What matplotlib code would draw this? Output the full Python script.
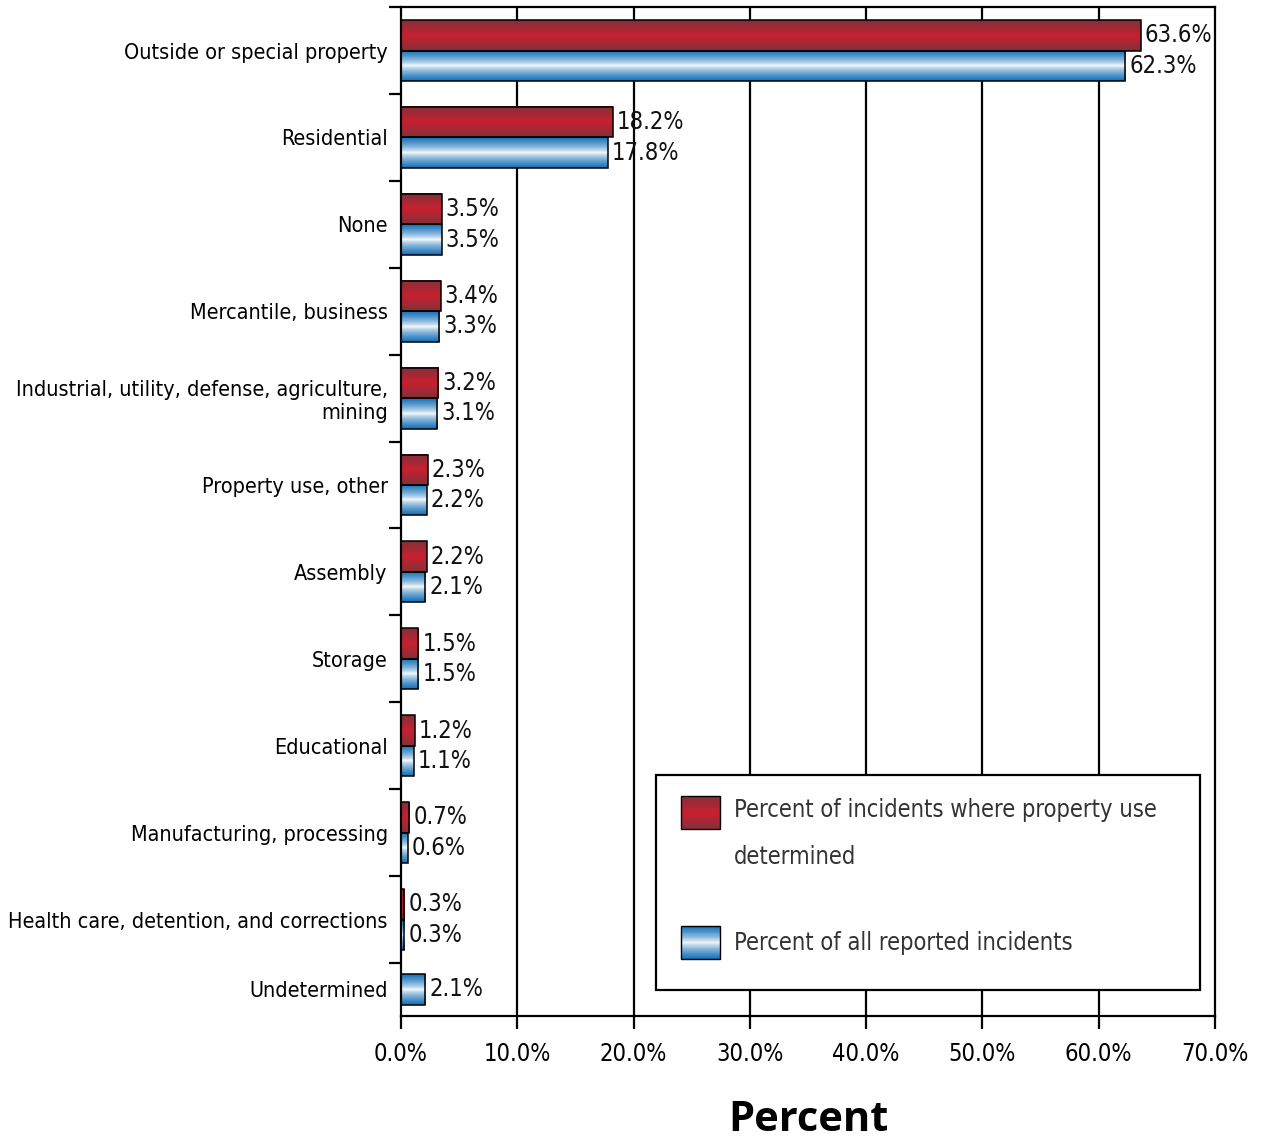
import numpy as np
import matplotlib.pyplot as plt
from matplotlib.patches import Rectangle
from matplotlib.legend_handler import HandlerBase
from matplotlib.colors import to_rgb

# property use categories, top to bottom
categories = [
    "Outside or special property",
    "Residential",
    "None",
    "Mercantile, business",
    "Industrial, utility, defense, agriculture,\nmining",
    "Property use, other",
    "Assembly",
    "Storage",
    "Educational",
    "Manufacturing, processing",
    "Health care, detention, and corrections",
    "Undetermined",
]
# percent of incidents where property use determined (none for "Undetermined")
pct_determined = [63.6, 18.2, 3.5, 3.4, 3.2, 2.3, 2.2, 1.5, 1.2, 0.7, 0.3, None]
# percent of all reported incidents
pct_all = [62.3, 17.8, 3.5, 3.3, 3.1, 2.2, 2.1, 1.5, 1.1, 0.6, 0.3, 2.1]
xticks = [0, 10, 20, 30, 40, 50, 60, 70]
legend_labels = ["Percent of incidents where property use\ndetermined",
                 "Percent of all reported incidents"]

plt.rcParams["font.family"] = ["DejaVu Sans"]
plt.rcParams["font.stretch"] = "condensed"


def gradient_colors(edge, center, n=40, power=1.0):
    t = np.abs(np.linspace(-1, 1, n)) ** power
    edge = np.array(to_rgb(edge))
    center = np.array(to_rgb(center))
    return center[None, :] * (1 - t[:, None]) + edge[None, :] * t[:, None]


red_grad = gradient_colors("#84303a", "#c8202f", power=1.0)
blue_grad = gradient_colors("#1470b8", "#ffffff", power=0.7)


class GradientHandler(HandlerBase):
    def __init__(self, colors, yshift=0.0):
        super().__init__()
        self.colors = colors
        self.yshift = yshift

    def create_artists(self, legend, orig_handle, xdescent, ydescent,
                       width, height, fontsize, trans):
        n = len(self.colors)
        y0 = -ydescent + self.yshift
        arts = []
        # colors run top to bottom, patches are stacked bottom up
        for i, c in enumerate(self.colors[::-1]):
            arts.append(Rectangle((-xdescent, y0 + height * i / n), width,
                                  height / n * 1.05, facecolor=c, edgecolor="none",
                                  transform=trans))
        arts.append(Rectangle((-xdescent, y0), width, height, fill=False,
                              edgecolor="black", lw=1.0, transform=trans))
        return arts


fig = plt.figure(figsize=(12.65, 11.4), dpi=100)
ax = fig.add_axes([0.317, 0.1088, 0.6435, 0.885])

ybottom = 11.11
ytop = -0.45
centers = np.arange(len(categories), dtype=float)
centers[-1] = (10.5 + ybottom) / 2
bar_h = 0.35
offset = 0.175


def gradient_bar(value, yc, colors):
    img = colors[:, None, :]
    ax.imshow(img, extent=(0, value, yc + bar_h / 2, yc - bar_h / 2),
              aspect="auto", interpolation="bilinear", zorder=2)
    ax.add_patch(Rectangle((0, yc - bar_h / 2), value, bar_h, fill=False,
                           edgecolor="black", lw=1.1, zorder=3))
    ax.text(value + 0.35, yc, f"{value:.1f}%", va="center", ha="left",
            fontsize=17, color="#111111", zorder=4)


for i, (d, a) in enumerate(zip(pct_determined, pct_all)):
    if d is None:
        gradient_bar(a, centers[i], blue_grad)
    else:
        gradient_bar(d, centers[i] - offset, red_grad)
        gradient_bar(a, centers[i] + offset, blue_grad)

ax.set_xlim(0, 70)
ax.set_ylim(ybottom, ytop)

# grid lines behind the bars
for x in xticks[1:-1]:
    ax.axvline(x, color="black", lw=1.6, zorder=1)

ax.set_xticks(xticks)
ax.set_xticklabels([f"{x:.1f}%" for x in xticks], fontsize=17)
ax.tick_params(axis="x", direction="out", length=9, width=1.6, pad=10)

# category separators as major ticks, names as minor ticks
ax.set_yticks(np.arange(-0.5, 11, 1.0))
ax.set_yticklabels([])
ax.set_yticks(centers, minor=True)
ax.set_yticklabels(categories, minor=True, fontsize=15.5)
ax.tick_params(axis="y", which="major", direction="out", length=9, width=1.6)
ax.tick_params(axis="y", which="minor", length=0, pad=9.5)

for s in ax.spines.values():
    s.set_linewidth(1.6)
    s.set_zorder(5)

ax.set_xlabel("Percent", fontsize=30, fontweight="bold", family="Open Sans",
              fontstretch="normal", labelpad=24)

# legend box with a white fill over the grid lines
box = Rectangle((0.313, 0.026), 0.669, 0.213, transform=ax.transAxes,
                facecolor="white", edgecolor="black", lw=1.6, zorder=6)
ax.add_patch(box)

h_red = Rectangle((0, 0), 1, 1)
h_blue = Rectangle((0, 0), 1, 1)
leg = ax.legend([h_red, h_blue], legend_labels,
                handler_map={h_red: GradientHandler(red_grad, yshift=16.5),
                             h_blue: GradientHandler(blue_grad)},
                loc="upper left", bbox_to_anchor=(0.332, 0.225),
                borderaxespad=0, fontsize=17, frameon=False,
                handlelength=1.65, handleheight=1.8, handletextpad=0.6,
                labelspacing=2.4, borderpad=0.4, labelcolor="#333333")
for t in leg.get_texts():
    t.set_linespacing(2.2)
leg.set_zorder(7)

fig.savefig("out.png", dpi=100)
